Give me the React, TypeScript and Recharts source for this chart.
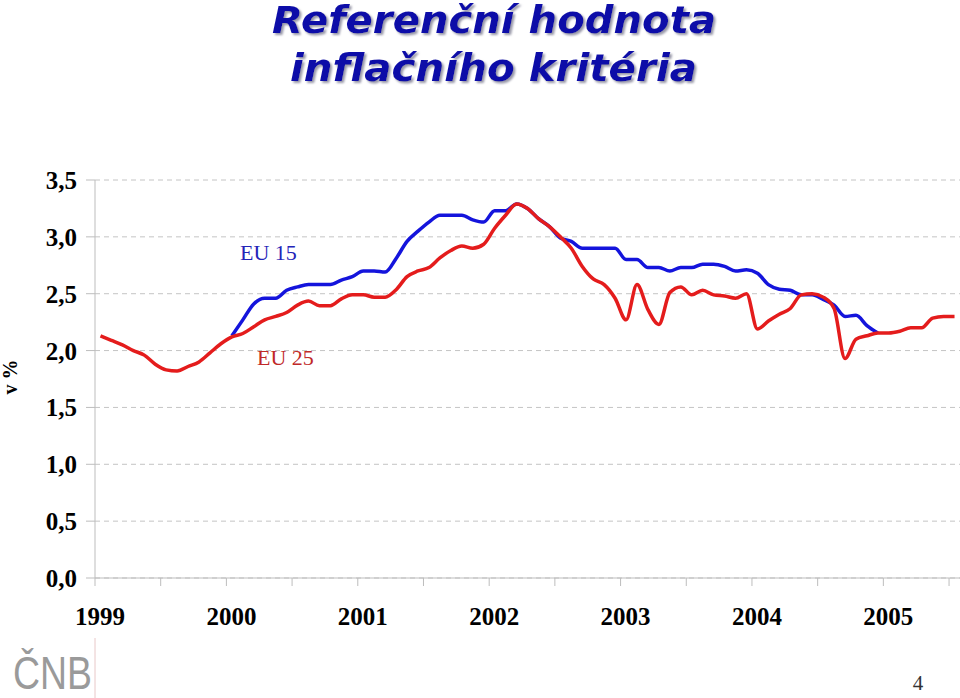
import React from "react";
import { LineChart, Line, XAxis, YAxis, CartesianGrid } from "recharts";

// Monthly values, Jan 1999 .. Jul 2005 (index 0 = Jan 1999)
const eu25Values: number[] = [
  2.13, 2.09, 2.05, 2.0, 1.96, 1.88, 1.83, 1.82, 1.86, 1.9, 1.98, 2.06,
  2.12, 2.15, 2.21, 2.27, 2.3, 2.335, 2.4, 2.435, 2.395, 2.395, 2.455, 2.49,
  2.49, 2.47, 2.47, 2.535, 2.65, 2.7, 2.73, 2.815, 2.88, 2.92, 2.9, 2.935,
  3.076, 3.19, 3.29, 3.25, 3.16, 3.09, 3.0, 2.9, 2.74, 2.63, 2.58, 2.46,
  2.27, 2.58, 2.36, 2.23, 2.51, 2.56, 2.49, 2.53, 2.49, 2.48, 2.46, 2.5,
  2.19, 2.26, 2.32, 2.37, 2.49, 2.5, 2.47, 2.37, 1.93, 2.1, 2.13, 2.155,
  2.155, 2.17, 2.2, 2.2, 2.285, 2.3, 2.3,
];

// EU 15 starts in Jan 2000 (index 12)
const eu15Start = 12;
const eu15Values: number[] = [
  2.13, 2.27, 2.41, 2.46, 2.46, 2.53, 2.56, 2.58, 2.58, 2.58, 2.62, 2.65,
  2.7, 2.7, 2.69, 2.81, 2.96, 3.05, 3.13, 3.19, 3.19, 3.19, 3.15, 3.13,
  3.23, 3.23, 3.29, 3.25, 3.16, 3.09, 2.99, 2.96, 2.9, 2.9, 2.9, 2.9,
  2.8, 2.8, 2.73, 2.73, 2.7, 2.73, 2.73, 2.76, 2.76, 2.74, 2.7, 2.71,
  2.68, 2.58, 2.54, 2.53, 2.49, 2.49, 2.45, 2.4, 2.3, 2.31, 2.22, 2.155,
];

const years: string[] = ["1999", "2000", "2001", "2002", "2003", "2004", "2005"];
const yTicks: number[] = [0, 0.5, 1, 1.5, 2, 2.5, 3, 3.5];
const xTicks: number[] = Array.from({ length: 14 }, (_, i) => i * 6);

const data = eu25Values.map((v, i) => {
  const j = i - eu15Start;
  return {
    m: i + 0.5,
    eu25: v,
    eu15: j >= 0 && j < eu15Values.length ? eu15Values[j] : null,
  };
});

const SERIF = '"Liberation Serif", "Times New Roman", serif';
const BLUE = "#1414DC";
const RED = "#E41C1C";

const YTick = (props: any) => {
  const { x, y, payload } = props;
  return (
    <text
      x={x}
      y={y + 9}
      textAnchor="end"
      fontFamily={SERIF}
      fontWeight="bold"
      fontSize={25}
      fill="#000"
    >
      {Number(payload.value).toFixed(1).replace(".", ",")}
    </text>
  );
};

const XTick = (props: any) => {
  const { x, y, payload } = props;
  const v = payload.value as number;
  if (v % 12 !== 0) return <g />;
  return (
    <text
      x={x + 5}
      y={y + 37}
      textAnchor="middle"
      fontFamily={SERIF}
      fontWeight="bold"
      fontSize={25}
      fill="#000"
    >
      {years[v / 12]}
    </text>
  );
};

export default function App() {
  return (
    <div
      style={{
        position: "absolute",
        left: 0,
        top: 0,
        width: 960,
        height: 698,
        background: "#fff",
        overflow: "hidden",
      }}
    >
      <LineChart
        width={960}
        height={698}
        data={data}
        margin={{ top: 180, right: 0, left: 0, bottom: 80 }}
      >
        <CartesianGrid
          vertical={false}
          stroke="#c4c4c4"
          strokeDasharray="5 4"
        />
        <XAxis
          dataKey="m"
          type="number"
          domain={[0, 79]}
          ticks={xTicks}
          interval={0}
          height={40}
          axisLine={{ stroke: "#bdbdbd" }}
          tickLine={{ stroke: "#bdbdbd" }}
          tickSize={8}
          tickMargin={2}
          tick={XTick}
        />
        <YAxis
          type="number"
          domain={[0, 3.5]}
          ticks={yTicks}
          interval={0}
          width={95}
          axisLine={{ stroke: "#bdbdbd" }}
          tickLine={{ stroke: "#bdbdbd" }}
          tickSize={9}
          tickMargin={9}
          tick={YTick}
        />
        <Line
          dataKey="eu15"
          type="monotone"
          stroke={BLUE}
          strokeWidth={3.5}
          dot={false}
          activeDot={false}
          isAnimationActive={false}
        />
        <Line
          dataKey="eu25"
          type="monotone"
          stroke={RED}
          strokeWidth={3.5}
          dot={false}
          activeDot={false}
          isAnimationActive={false}
        />
      </LineChart>
      <svg
        width={960}
        height={698}
        style={{ position: "absolute", left: 0, top: 0, pointerEvents: "none" }}
      >
        <defs>
          <filter id="titleShadow" x="-10%" y="-30%" width="120%" height="160%">
            <feDropShadow dx="2" dy="2" stdDeviation="0.8" floodColor="#9898a8" floodOpacity="1" />
          </filter>
        </defs>
        <g
          fontFamily='"DejaVu Sans", Verdana, sans-serif'
          fontWeight="bold"
          fontStyle="italic"
          fontSize={37}
          filter="url(#titleShadow)"
        >
          <text x={494} y={33} textAnchor="middle" fill="#0808A8" textLength={444} lengthAdjust="spacingAndGlyphs">
            Referenční hodnota
          </text>
          <text x={493.5} y={81} textAnchor="middle" fill="#0808A8" textLength={407} lengthAdjust="spacingAndGlyphs">
            inflačního kritéria
          </text>
        </g>
        <text x={240} y={260} fontFamily={SERIF} fontSize={22} fill="#2424B8">
          EU 15
        </text>
        <text x={257} y={365} fontFamily={SERIF} fontSize={22} fill="#C02828">
          EU 25
        </text>
        <text
          transform="translate(17,377) rotate(-90)"
          textAnchor="middle"
          fontFamily={SERIF}
          fontWeight="bold"
          fontSize={20}
          fill="#000"
        >
          v %
        </text>
        <text
          x={13}
          y={689}
          fontFamily='"Liberation Sans", Arial, sans-serif'
          fontSize={47}
          fill="#9a9a9a"
          textLength={79}
          lengthAdjust="spacingAndGlyphs"
        >
          ČNB
        </text>
        <line x1={95} y1={638} x2={95} y2={698} stroke="#e8c8c8" strokeWidth={1} />
        <text x={918} y={690} textAnchor="middle" fontFamily={SERIF} fontSize={21} fill="#333">
          4
        </text>
      </svg>
    </div>
  );
}
